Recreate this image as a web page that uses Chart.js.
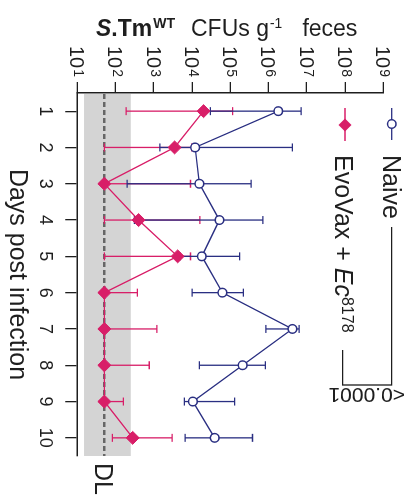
<!DOCTYPE html>
<html>
<head>
<meta charset="utf-8">
<script src="https://cdn.jsdelivr.net/npm/chart.js@4.4.1/dist/chart.umd.min.js"></script>
<style>
html, body { margin: 0; padding: 0; background: #fff; overflow: hidden; }
/* the figure is drawn upright, then turned a quarter turn clockwise */
#cadre { position: absolute; left: 0; top: 0; width: 499px; height: 414px;
         transform-origin: 0 0; transform: translate(414px, 0) rotate(90deg); }
</style>
</head>
<body>
<div id="cadre"><canvas id="graphiqueCFU" width="499" height="414"></canvas></div>
<script>
var jours = ['1', '2', '3', '4', '5', '6', '7', '8', '9', '10'];

var naiveMoy  = [1.8e6, 1.2e4, 1.55e4, 5.2e4, 1.8e4, 6.2e4, 4.2e6, 2.1e5, 1.05e4, 3.9e4];
var naiveBas  = [3.0e4, 1.45e3, 2.0e2, 3.1e2, 4.9e3, 1.0e4, 8.5e5, 1.55e4, 6.3e3, 6.6e3];
var naiveHaut = [7.1e6, 4.2e6, 3.5e5, 7.1e5, 1.75e5, 2.2e5, 6.3e6, 8.3e5, 1.3e5, 3.8e5];

var evoMoy  = [2.0e4, 3.5e3, 51, 4.0e2, 4.2e3, 51, 51, 51, 51, 2.8e2];
var evoBas  = [1.9e2, 51, 51, 51, 51, 51, 51, 51, 51, 83];
var evoHaut = [1.15e5, 9.8e3, 9.1e3, 1.6e4, 9.1e3, 3.7e2, 1.2e3, 7.6e2, 1.6e2, 3.0e3];

var decades = [1e1, 1e2, 1e3, 1e4, 1e5, 1e6, 1e7, 1e8, 1e9];
var exposants = ['1', '2', '3', '4', '5', '6', '7', '8', '9'];
var limiteDetection = 51;
var zoneDetection = [15, 250];

var POLICE = '"Liberation Sans", Arial, sans-serif';
var NAVY = '#2a2f82';
var ROSE = '#d81e68';
var ENCRE = '#1e1e1e';

function texteMixte(ctx, morceaux, x, y) {
    morceaux.forEach(function (m) {
        x += m.gap || 0;
        ctx.font = m.font;
        ctx.fillText(m.t, x, y - (m.rise || 0));
        x += ctx.measureText(m.t).width;
    });
    return x;
}

function barresErreur(chart, moy, bas, haut, couleur) {
    var ctx = chart.ctx, xs = chart.scales.x, ys = chart.scales.y;
    ctx.save();
    ctx.strokeStyle = couleur;
    ctx.lineWidth = 1.3;
    for (var i = 0; i < moy.length; i++) {
        var px = xs.getPixelForValue(i);
        var pb = ys.getPixelForValue(bas[i]);
        var ph = ys.getPixelForValue(haut[i]);
        ctx.beginPath();
        ctx.moveTo(px, pb);
        ctx.lineTo(px, ph);
        if (bas[i] < moy[i]) { ctx.moveTo(px - 4, pb); ctx.lineTo(px + 4, pb); }
        if (haut[i] > moy[i]) { ctx.moveTo(px - 4, ph); ctx.lineTo(px + 4, ph); }
        ctx.stroke();
    }
    ctx.restore();
}

var dessinsExtra = {
    id: 'dessinsExtra',
    beforeDatasetsDraw: function (chart) {
        var ctx = chart.ctx, zone = chart.chartArea, ys = chart.scales.y;
        // zone grise sous la limite de détection
        var yHaut = ys.getPixelForValue(zoneDetection[1]);
        var yBas = ys.getPixelForValue(zoneDetection[0]);
        ctx.save();
        ctx.fillStyle = '#d4d4d4';
        ctx.fillRect(zone.left + 1, yHaut, zone.right - zone.left - 1, yBas - yHaut);
        var yDL = ys.getPixelForValue(limiteDetection);
        ctx.strokeStyle = '#666';
        ctx.lineWidth = 2.5;
        ctx.setLineDash([5, 3]);
        ctx.beginPath();
        ctx.moveTo(zone.left + 1, yDL);
        ctx.lineTo(zone.right, yDL);
        ctx.stroke();
        ctx.restore();
        barresErreur(chart, evoMoy, evoBas, evoHaut, ROSE);
        barresErreur(chart, naiveMoy, naiveBas, naiveHaut, NAVY);
    },
    afterDraw: function (chart) {
        var ctx = chart.ctx, ys = chart.scales.y, zone = chart.chartArea;
        ctx.save();
        ctx.fillStyle = ENCRE;
        ctx.textBaseline = 'alphabetic';
        ctx.textAlign = 'left';

        // étiquettes 10^n
        decades.forEach(function (v, i) {
            var py = ys.getPixelForValue(v);
            ctx.font = '20px ' + POLICE;
            var w10 = ctx.measureText('10').width;
            ctx.font = '14px ' + POLICE;
            var we = ctx.measureText(exposants[i]).width;
            var x0 = ys.right - 16 - we - w10 - 1;
            ctx.font = '20px ' + POLICE;
            ctx.fillText('10', x0, py + 7.2);
            ctx.font = '14px ' + POLICE;
            ctx.fillText(exposants[i], x0 + w10 + 1, py + 3);
        });

        // titre de l'axe des valeurs
        ctx.save();
        ctx.translate(36, 318);
        ctx.rotate(-Math.PI / 2);
        texteMixte(ctx, [
            { t: 'S', font: 'italic bold 23px ' + POLICE },
            { t: '.Tm', font: 'bold 23px ' + POLICE },
            { t: 'WT', font: 'bold 14px ' + POLICE, rise: 8, gap: 1 },
            { t: 'CFUs g', font: '23px ' + POLICE, gap: 16 },
            { t: '-1', font: '14px ' + POLICE, rise: 8, gap: 1 },
            { t: 'feces', font: '23px ' + POLICE, gap: 20 }
        ], 0, 0);
        ctx.restore();

        // légende
        ctx.lineWidth = 1.3;
        ctx.strokeStyle = NAVY;
        ctx.beginPath(); ctx.moveTo(108, 22.3); ctx.lineTo(140, 22.3); ctx.stroke();
        ctx.fillStyle = '#fff';
        ctx.lineWidth = 1.5;
        ctx.beginPath(); ctx.arc(124, 22.3, 4.3, 0, Math.PI * 2); ctx.fill(); ctx.stroke();
        ctx.fillStyle = ENCRE;
        ctx.font = '25px ' + POLICE;
        ctx.fillText('Naive', 155, 31);

        ctx.strokeStyle = ROSE;
        ctx.lineWidth = 1.3;
        ctx.beginPath(); ctx.moveTo(108, 69); ctx.lineTo(141, 69); ctx.stroke();
        ctx.fillStyle = ROSE;
        ctx.beginPath();
        ctx.moveTo(125, 62.5); ctx.lineTo(131.5, 69); ctx.lineTo(125, 75.5); ctx.lineTo(118.5, 69);
        ctx.closePath(); ctx.fill();
        ctx.fillStyle = ENCRE;
        texteMixte(ctx, [
            { t: 'EvoVax + ', font: '25px ' + POLICE },
            { t: 'Ec', font: 'italic 25px ' + POLICE },
            { t: '8178', font: '16px ' + POLICE, rise: 7 }
        ], 155, 79);

        // crochet de significativité
        ctx.strokeStyle = ENCRE;
        ctx.lineWidth = 1.3;
        ctx.beginPath();
        ctx.moveTo(227, 22.3); ctx.lineTo(385, 22.3); ctx.lineTo(385, 71.3); ctx.lineTo(350, 71.3);
        ctx.stroke();
        ctx.save();
        ctx.translate(388, 9);
        ctx.rotate(Math.PI / 2);
        ctx.font = '21px ' + POLICE;
        ctx.fillText('<0.0001', 0, 0);
        ctx.restore();

        // DL
        ctx.font = '25px ' + POLICE;
        ctx.fillText('DL', zone.right + 7, ys.getPixelForValue(limiteDetection) + 9);
        ctx.restore();
    }
};

var canvasCFU = document.getElementById('graphiqueCFU');
var ctxCFU = canvasCFU.getContext('2d');
var graphiqueCFU = new Chart(ctxCFU, {
    type: 'line',
    data: {
        labels: jours,
        datasets: [{
            label: 'Naive',
            data: naiveMoy,
            borderColor: NAVY,
            backgroundColor: '#fff',
            borderWidth: 1.3,
            pointStyle: 'circle',
            pointRadius: 4.3,
            pointBorderWidth: 1.5,
            tension: 0
        }, {
            label: 'EvoVax + Ec8178',
            data: evoMoy,
            borderColor: ROSE,
            backgroundColor: ROSE,
            borderWidth: 1.3,
            pointStyle: 'rectRot',
            pointRadius: 6.5,
            pointBorderWidth: 1,
            tension: 0
        }]
    },
    options: {
        responsive: false,
        animation: false,
        devicePixelRatio: 1,
        layout: { padding: { left: 0, right: 43, top: 30.7, bottom: 0 } },
        plugins: { legend: { display: false }, tooltip: { enabled: false } },
        scales: {
            x: {
                type: 'category',
                offset: true,
                position: 'bottom',
                grid: { drawOnChartArea: false, drawTicks: true, tickLength: 12, color: ENCRE, lineWidth: 1.3, offset: false },
                border: { display: true, color: ENCRE, width: 1.5 },
                ticks: { color: ENCRE, font: { family: POLICE, size: 18 }, padding: 9.5, maxRotation: 0, autoSkip: false },
                title: { display: true, text: 'Days post infection', color: ENCRE, font: { family: POLICE, size: 25 }, padding: { top: 0, bottom: 1.5 } },
                afterFit: function (s) { s.height = 77.3; }
            },
            y: {
                type: 'logarithmic',
                min: 10,
                max: 1e9,
                position: 'left',
                afterBuildTicks: function (s) { s.ticks = decades.map(function (v) { return { value: v, major: true }; }); },
                grid: { drawOnChartArea: false, drawTicks: true, tickLength: 11, color: ENCRE, lineWidth: 1.3 },
                border: { display: true, color: ENCRE, width: 1.5 },
                ticks: { display: false },
                afterFit: function (s) { s.width = 93; }
            }
        }
    },
    plugins: [dessinsExtra]
});
</script>
</body>
</html>
